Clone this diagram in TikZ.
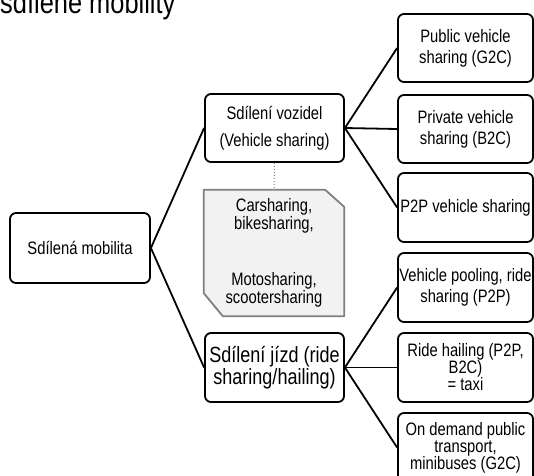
\documentclass[tikz,border=0pt]{standalone}
\usepackage{fontspec}
\setmainfont{Liberation Sans}[FakeStretch=0.82]
\usetikzlibrary{backgrounds}
\newcommand\fsz[2]{\fontsize{#1}{#2}\selectfont}
\tikzset{
  box/.style={draw=black, line width=1.8pt, rounded corners=6pt, align=center,
    inner sep=0pt, font=\fsz{18}{21}},
  rbox/.style={box, minimum width=135pt, minimum height=68pt},
  link/.style={line width=1.8pt},
  graytext/.style={minimum width=140pt, minimum height=126pt,
    inner sep=0pt, align=center, font=\fsz{18}{16.7}},
  grayfill/.style={draw=black!50, fill=black!5, line width=1.8pt, line join=round},
}
\begin{document}
\begin{tikzpicture}[x=1pt,y=-1pt]
\useasboundingbox (0,0) rectangle (534,475);
\clip (0,0) rectangle (534,475);
\node[anchor=base west, inner sep=0pt, font=\fsz{31}{35}] (title) at (0,13) {sdílené mobility};

\node[box, minimum width=140pt, minimum height=70pt] (root) at (80,248) {Sdílená mobilita};
\node[box, minimum width=139pt, minimum height=68pt, font=\fsz{18}{27}] (veh) at (274.5,128) {Sdílení vozidel\\(Vehicle sharing)};
\node[graytext] (gray) at (274,253) {Carsharing,\\bikesharing,\\[38pt]Motosharing,\\scootersharing};
\begin{scope}[on background layer]
\draw[grayfill] (gray.north west) -- ([xshift=-19pt]gray.north east) -- ([yshift=-17pt]gray.north east)
  -- (gray.south east) -- ([xshift=19pt]gray.south west) -- ([yshift=23pt]gray.south west) -- cycle;
\end{scope}
\node[box, minimum width=139pt, minimum height=69pt, font=\fsz{22}{19}] (ride) at (274.5,367.5) {Sdílení jízd (ride\\sharing/hailing)};

\node[rbox] (r1) at (465.5,48) {Public vehicle\\sharing (G2C)};
\node[rbox] (r2) at (465.5,129) {Private vehicle\\sharing (B2C)};
\node[rbox, minimum height=69pt] (r3) at (465.5,207.5) {P2P vehicle sharing};
\node[rbox, minimum height=69pt] (r4) at (465.5,287.5) {Vehicle pooling, ride\\sharing (P2P)};
\node[rbox, minimum height=69pt, font=\fsz{18}{17}] (r5) at (465.5,367.5) {Ride hailing (P2P,\\B2C)\\= taxi};
\node[rbox, minimum height=69pt, font=\fsz{18}{17}] (r6) at (465.5,447.5) {On demand public\\transport,\\minibuses (G2C)};

\draw[link] (root.east) -- (veh.west);
\draw[link] (root.east) -- (ride.west);
\draw[link] (veh.east) -- (r1.west);
\draw[link] (veh.east) -- (r2.west);
\draw[link] (veh.east) -- (r3.west);
\draw[link] (ride.east) -- (r4.west);
\draw[link] (ride.east) -- (r5.west);
\draw[link] (ride.east) -- (r6.west);
\draw[black!50, line width=1pt, dotted] (veh.south) -- (gray.north);
\end{tikzpicture}
\end{document}
